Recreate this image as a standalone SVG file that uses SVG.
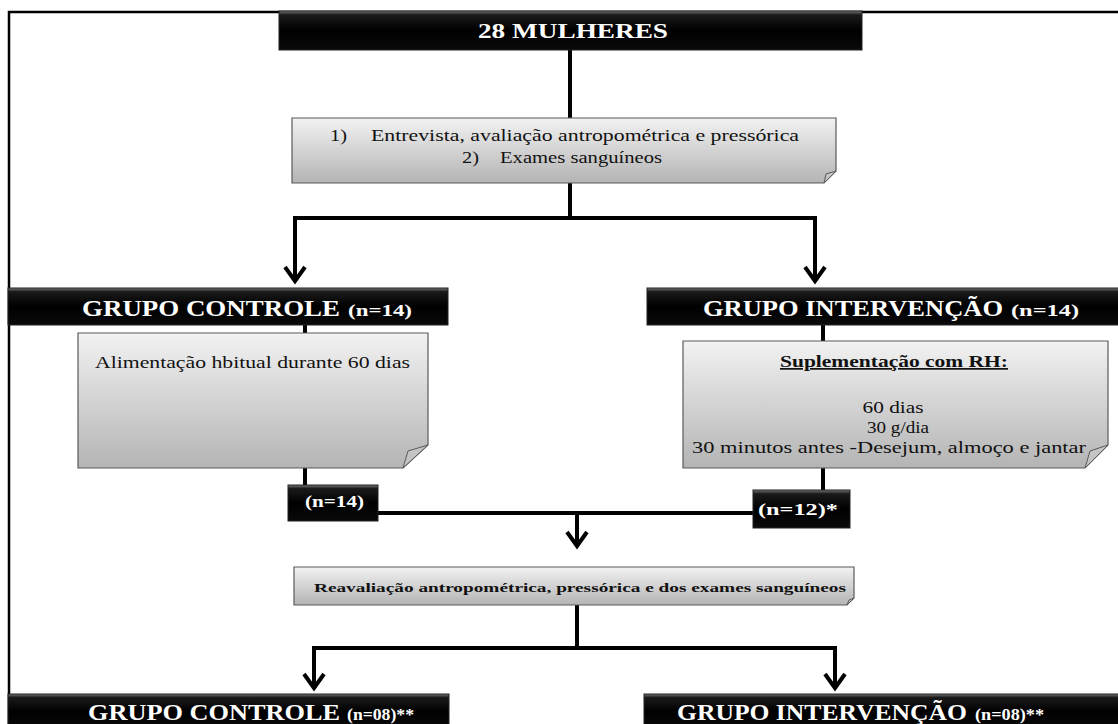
<svg xmlns="http://www.w3.org/2000/svg" width="1118" height="724" viewBox="0 0 1118 724">
<defs>
<linearGradient id="blk" x1="0" y1="0" x2="0" y2="1">
<stop offset="0" stop-color="#777"/>
<stop offset="0.1" stop-color="#1a1a1a"/>
<stop offset="0.5" stop-color="#000"/>
<stop offset="1" stop-color="#0a0a0a"/>
</linearGradient>
<linearGradient id="note" x1="0" y1="0" x2="0" y2="1">
<stop offset="0" stop-color="#f2f2f2"/>
<stop offset="1" stop-color="#b4b4b4"/>
</linearGradient>
<marker id="chev" markerUnits="userSpaceOnUse" markerWidth="24" markerHeight="26" viewBox="-20 -13 24 26" refX="0" refY="0" orient="auto">
<path d="M-14,-10 L0,0 L-14,10" fill="none" stroke="#000" stroke-width="4"/>
</marker>
<style>
.hdr{fill:url(#blk);stroke:#222;stroke-width:1}
.nt{fill:url(#note);stroke:#5a5a5a;stroke-width:1.2}
.fold{fill:#c4c4c4;stroke:#5a5a5a;stroke-width:1}
.w{fill:#fff;font-family:"Liberation Serif","Times New Roman",serif;font-weight:bold}
.t{fill:#111;font-family:"Liberation Serif","Times New Roman",serif}
.c{fill:none;stroke:#000;stroke-width:4}
</style>
</defs>
<rect width="1118" height="724" fill="#fff"/>
<path d="M9,724 V12 H1118" fill="none" stroke="#000" stroke-width="2.5"/>

<g id="connectors">
<path class="c" d="M570,50 V118"/>
<path class="c" d="M570,183 V218"/>
<path class="c" d="M293,218 H817"/>
<path class="c" d="M295,218 V281" marker-end="url(#chev)"/>
<path class="c" d="M815,218 V281" marker-end="url(#chev)"/>
<path class="c" d="M305,325 V333"/>
<path class="c" d="M305,468 V485"/>
<path class="c" d="M823,325 V341"/>
<path class="c" d="M823,468 V490"/>
<path class="c" d="M378,513 H753"/>
<path class="c" d="M577,513 V546" marker-end="url(#chev)"/>
<path class="c" d="M577,605 V648"/>
<path class="c" d="M312,648 H837"/>
<path class="c" d="M314,648 V688" marker-end="url(#chev)"/>
<path class="c" d="M835,648 V688" marker-end="url(#chev)"/>
</g>

<g id="n-mulheres">
<rect class="hdr" x="279" y="11" width="583" height="39"/>
<text class="w" x="478" y="38" font-size="21" textLength="190" lengthAdjust="spacingAndGlyphs">28 MULHERES</text>
</g>

<g id="n-entrevista">
<path class="nt" d="M292,118 H836 V171 L824,183 H292 Z"/>
<path class="fold" d="M836,171 L826,174 L824,183 Z"/>
<text class="t" font-size="16" y="141"><tspan x="330" textLength="17" lengthAdjust="spacingAndGlyphs">1)</tspan><tspan x="371" textLength="428" lengthAdjust="spacingAndGlyphs">Entrevista, avaliação antropométrica e pressórica</tspan></text>
<text class="t" font-size="16" y="163"><tspan x="462" textLength="17" lengthAdjust="spacingAndGlyphs">2)</tspan><tspan x="500" textLength="162" lengthAdjust="spacingAndGlyphs">Exames sanguíneos</tspan></text>
</g>

<g id="n-grupo-controle">
<rect class="hdr" x="8" y="288" width="440" height="37"/>
<text class="w" y="316"><tspan x="82" font-size="24" textLength="258" lengthAdjust="spacingAndGlyphs">GRUPO CONTROLE</tspan><tspan x="348" font-size="16" textLength="64" lengthAdjust="spacingAndGlyphs">(n=14)</tspan></text>
</g>

<g id="n-grupo-intervencao">
<rect class="hdr" x="647" y="288" width="472" height="37"/>
<text class="w" y="316"><tspan x="703" font-size="24" textLength="300" lengthAdjust="spacingAndGlyphs">GRUPO INTERVENÇÃO</tspan><tspan x="1011" font-size="16" textLength="68" lengthAdjust="spacingAndGlyphs">(n=14)</tspan></text>
</g>

<g id="n-alimentacao">
<path class="nt" d="M78,333 H428 V445 L403,468 H78 Z"/>
<path class="fold" d="M428,445 L408,451 L403,468 Z"/>
<text class="t" x="95" y="368" font-size="17" textLength="315" lengthAdjust="spacingAndGlyphs">Alimentação hbitual durante 60 dias</text>
</g>

<g id="n-suplementacao">
<path class="nt" d="M683,341 H1108 V445 L1085,468 H683 Z"/>
<text class="t" x="894" y="367" font-size="17" font-weight="bold" text-decoration="underline" text-anchor="middle" textLength="228" lengthAdjust="spacingAndGlyphs">Suplementação com RH:</text>
<text class="t" x="893" y="413" font-size="17" text-anchor="middle" textLength="61" lengthAdjust="spacingAndGlyphs">60 dias</text>
<text class="t" x="898" y="433" font-size="17" text-anchor="middle" textLength="62" lengthAdjust="spacingAndGlyphs">30 g/dia</text>
<text class="t" x="692" y="453" font-size="17" textLength="394" lengthAdjust="spacingAndGlyphs">30 minutos antes -Desejum, almoço e jantar</text>
<path class="fold" d="M1108,445 L1090,451 L1085,468 Z"/>
</g>

<g id="n-n14">
<rect class="hdr" x="288" y="485" width="90" height="36"/>
<text class="w" x="305" y="507" font-size="16" textLength="59" lengthAdjust="spacingAndGlyphs">(n=14)</text>
</g>

<g id="n-n12">
<rect class="hdr" x="753" y="490" width="97" height="38"/>
<text class="w" x="758" y="515" font-size="16" textLength="80" lengthAdjust="spacingAndGlyphs">(n=12)*</text>
</g>

<g id="n-reavaliacao">
<path class="nt" d="M294,567 H854 V598 L847,605 H294 Z"/>
<path class="fold" d="M854,598 L849,600 L847,605 Z"/>
<text class="t" x="314" y="592" font-size="13.5" font-weight="bold" textLength="532" lengthAdjust="spacingAndGlyphs">Reavaliação antropométrica,  pressórica e dos exames sanguíneos</text>
</g>

<g id="n-controle-final">
<rect class="hdr" x="8" y="694" width="441" height="35"/>
<text class="w" y="720"><tspan x="88" font-size="24" textLength="252" lengthAdjust="spacingAndGlyphs">GRUPO CONTROLE</tspan><tspan x="347" font-size="16" textLength="67" lengthAdjust="spacingAndGlyphs">(n=08)**</tspan></text>
</g>

<g id="n-intervencao-final">
<rect class="hdr" x="644" y="694" width="475" height="35"/>
<text class="w" y="720"><tspan x="677" font-size="24" textLength="290" lengthAdjust="spacingAndGlyphs">GRUPO INTERVENÇÃO</tspan><tspan x="975" font-size="16" textLength="69" lengthAdjust="spacingAndGlyphs">(n=08)**</tspan></text>
</g>
</svg>
